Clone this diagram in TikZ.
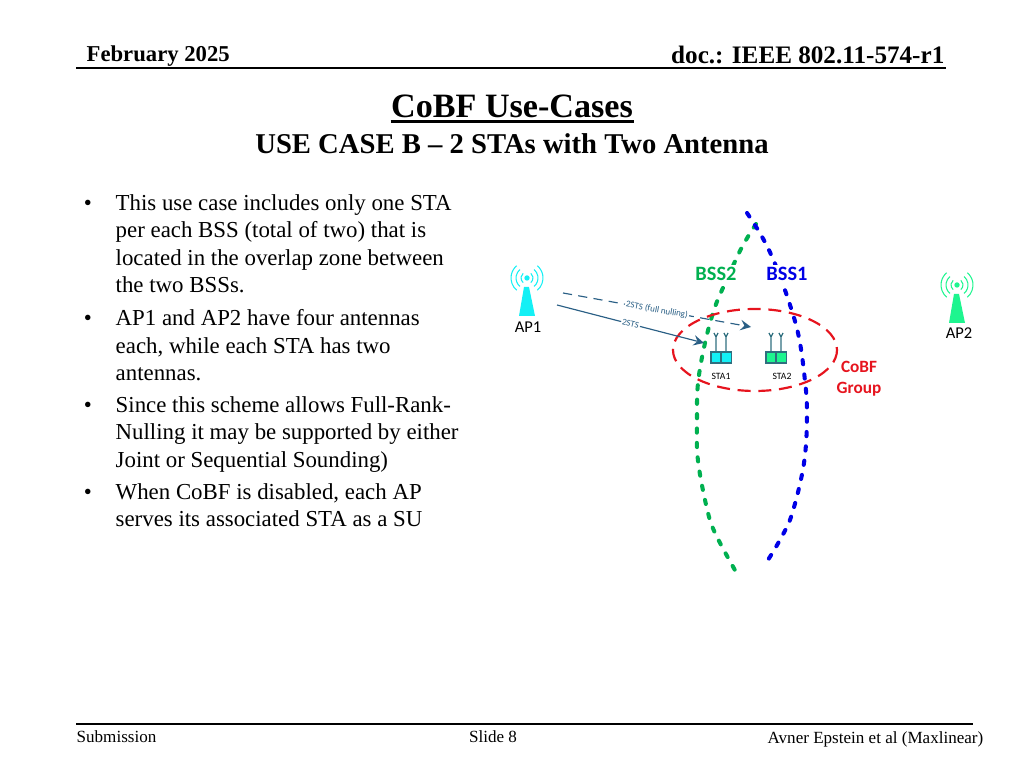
\documentclass[tikz,border=0pt]{standalone}
\usepackage{fontspec}
\setmainfont{Liberation Serif}
\newfontfamily\carlito{Carlito}
\definecolor{apone}{HTML}{14F0F5}
\definecolor{aptwo}{HTML}{1EF58F}
\definecolor{bsstwo}{HTML}{00B050}
\definecolor{bssone}{HTML}{0000E6}
\definecolor{cobfred}{HTML}{E6141E}
\definecolor{linkblue}{HTML}{2A5F85}
\definecolor{stagrey}{HTML}{2F6F7F}
\newcommand{\setpx}[2]{\fontsize{#1}{#2}\selectfont}
\tikzset{
	headtext/.style={inner sep=0pt, font=\setpx{7.15pt}{8pt}\bfseries},
	bodytext/.style={inner sep=0pt, anchor=north west, align=left, font=\setpx{6.5pt}{7.77pt}},
	bullettext/.style={inner sep=0pt, font=\setpx{6.5pt}{7.77pt}},
	foottext/.style={inner sep=0pt, font=\setpx{4.85pt}{6pt}},
	aptext/.style={inner sep=0pt, font=\carlito\setpx{4.7pt}{6pt}},
	statext/.style={inner sep=0pt, font=\carlito\setpx{2.75pt}{3.4pt}},
	bsstext/.style={inner sep=0.6pt, fill=white, font=\carlito\setpx{5.8pt}{7pt}\bfseries},
	cobftext/.style={inner sep=0pt, font=\carlito\setpx{4.9pt}{5.95pt}\bfseries, text=cobfred, align=center},
	linktext/.style={inner sep=0.3pt, fill=white, sloped, text=linkblue, font=\carlito\setpx{2.55pt}{3pt}},
	bssline/.style={line width=1.15pt, line cap=round, dash pattern=on 1.2pt off 2.9pt},
	linkline/.style={-stealth, line width=0.33pt, linkblue},
}
\begin{document}
\begin{tikzpicture}[x=0.01cm, y=-0.01cm]
	\useasboundingbox (0,0) rectangle (1024,768);

	% header and footer
	\node[headtext, anchor=base west, font=\setpx{6.45pt}{8pt}\bfseries] (date) at (86, 62)     {February 2025};
	\node[headtext, anchor=base east] (doc) at (945, 64)     {doc.: IEEE 802.11-574-r1};
	\coordinate (headl) at (76, 68);
	\coordinate (headr) at (946, 68);
	\draw[line width=0.3pt] (headl) -- (headr);

	\node[inner sep=0pt, anchor=base, font=\setpx{9.7pt}{11pt}\bfseries] (title) at (512, 118)     {CoBF Use-Cases};
	\draw[line width=0.7pt] ([yshift=-1pt]title.base west) -- ([yshift=-1pt]title.base east);
	\node[inner sep=0pt, anchor=base, font=\setpx{8.15pt}{9pt}\bfseries] (subtitle) at (512, 154)     {USE CASE B -- 2 STAs with Two Antenna};

	\coordinate (footl) at (76, 724);
	\coordinate (footr) at (973, 724);
	\draw[line width=0.45pt] (footl) -- (footr);
	\node[foottext, anchor=west] (subm) at (76, 737)     {Submission};
	\node[foottext] (slide) at (493, 737)     {Slide 8};
	\node[foottext, anchor=east] (authors) at (984, 739)     {Avner Epstein et al (Maxlinear)};

	% bullets
	\node[bullettext] (b1) at (88, 205)     {•};
	\node[bullettext] (b2) at (88, 320)     {•};
	\node[bullettext] (b3) at (88, 407)     {•};
	\node[bullettext] (b4) at (88, 494)     {•};
	\node[bodytext] (t1) at (115, 194)     {This use case includes only one STA\\per each BSS (total of two) that is\\located in the overlap zone between\\the two BSSs.};
	\node[bodytext] (t2) at (115, 309)     {AP1 and AP2 have four antennas\\each, while each STA has two\\antennas.};
	\node[bodytext] (t3) at (115, 396)     {Since this scheme allows Full-Rank-\\Nulling it may be supported by either\\Joint or Sequential Sounding)};
	\node[bodytext] (t4) at (115, 483)     {When CoBF is disabled, each AP\\serves its associated STA as a SU};

	% the two BSS borders
	\draw[bssline, bsstwo] plot[smooth, tension=0.6] coordinates {(756,224) (742,247) (728,277) (715,307) (705,343) (698,383) (697,420) (698,461) (708,513) (717,537) (736,572)};
	\draw[bssline, bssone] plot[smooth, tension=0.6] coordinates {(747,213) (761,235) (773,259) (787,296) (798,333) (804,372) (807,412) (804,463) (792,514) (781,538) (768,560)};

	% cobf group
	\draw[cobfred, line width=0.62pt, dash pattern=on 3.7pt off 2.2pt] (755, 350) ellipse (82 and 41);

	% access points
	\foreach \apx/\apy/\apcol in {527/278/apone, 957/285/aptwo}
	{
		\begin{scope}[shift={(\apx,\apy)}]
			\fill[\apcol] (-3,9) -- (2,9) -- (8,38) -- (-8,38) -- cycle;
			\fill[\apcol] (0,0) circle (2.7);
			\foreach \rad in {6,11,16}
			{
				\draw[\apcol, line width=0.3pt] (130:\rad) arc[start angle=130, end angle=230, radius=\rad];
				\draw[\apcol, line width=0.3pt] (50:\rad) arc[start angle=50, end angle=-50, radius=\rad];
			}
		\end{scope}
	}

	% stations
	\foreach \stax/\stacol in {721/apone, 776/aptwo}
	{
		\begin{scope}[shift={(\stax,352)}]
			\fill[\stacol] (-10,0) rectangle (10.5,11);
			\draw[stagrey, line width=0.3pt] (-10,11) -- (-10,0) -- (10.5,0) -- (10.5,11) -- cycle (0,0) -- (0,12);
			\foreach \antx in {-5,5}
			{
				\draw[stagrey, line width=0.35pt] (\antx,0) -- (\antx,-15) -- (\antx-2,-19) (\antx,-15) -- (\antx+2,-19);
			}
			\draw[stagrey, line width=0.5pt] (-9,11) -- (-9,12.5) (9.5,11) -- (9.5,12.5);
		\end{scope}
	}

	\node[aptext] (ap1) at (528, 327)     {AP1};
	\node[aptext] (ap2) at (959, 333)     {AP2};
	\node[statext] (sta1) at (721, 376)     {STA1};
	\node[statext] (sta2) at (782, 376)     {STA2};
	\node[bsstext, text=bsstwo] (bss2) at (716, 274)     {BSS2};
	\node[bsstext, text=bssone] (bss1) at (787, 274)     {BSS1};
	\node[cobftext] (cobf) at (859, 379)     {CoBF\\Group};

	% streams
	\coordinate (txa) at (557, 305);
	\coordinate (rxa) at (704, 343);
	\coordinate (txb) at (563, 293);
	\coordinate (rxb) at (751, 327);
	\path[linkline] (txa) edge node[linktext]{2STS} (rxa);
	\path[linkline, dash pattern=on 2.6pt off 1.8pt] (txb) edge node[linktext, pos=0.5]{2STS (full nulling)} (rxb);

\end{tikzpicture}
\end{document}
